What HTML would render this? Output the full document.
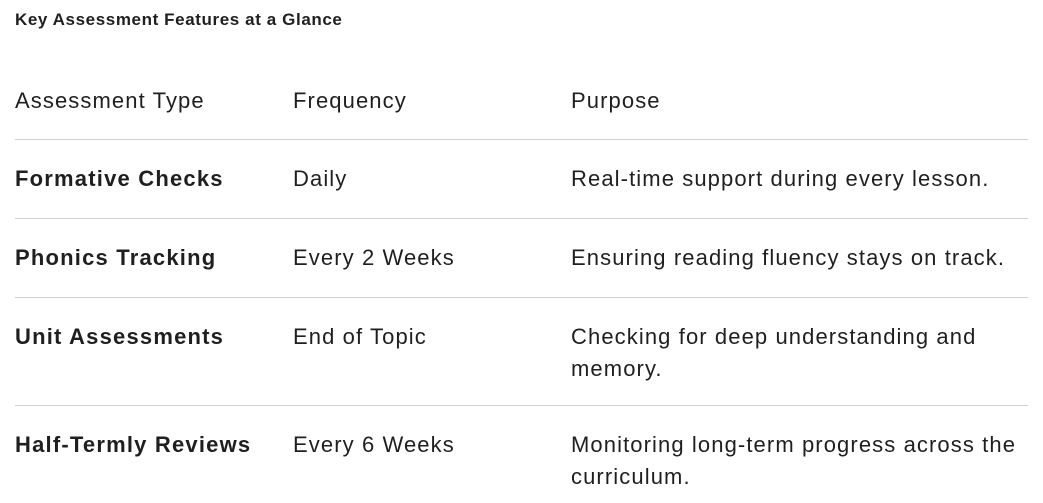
<!DOCTYPE html>
<html><head><style>
body{margin:0;width:1043px;height:503px;background:#fff;font-family:"Liberation Sans",sans-serif;color:#1f1f1f;position:relative;overflow:hidden}
.t{position:absolute;font-size:22px;letter-spacing:1.1px;line-height:32px;white-space:nowrap}
.b{font-weight:bold;letter-spacing:1.2px}
.l{position:absolute;left:15px;width:1013px;height:1px;background:#d0d0d0}
</style></head><body>
<div class="t b" style="left:15px;top:4px;font-size:17px;letter-spacing:0.6px">Key Assessment Features at a Glance</div>
<div class="t" style="left:15px;top:85px">Assessment Type</div>
<div class="t" style="left:293px;top:85px">Frequency</div>
<div class="t" style="left:571px;top:85px">Purpose</div>
<div class="l" style="top:139px"></div>
<div class="t b" style="left:15px;top:163px">Formative Checks</div>
<div class="t" style="left:293px;top:163px">Daily</div>
<div class="t" style="left:571px;top:163px">Real-time support during every lesson.</div>
<div class="l" style="top:218px"></div>
<div class="t b" style="left:15px;top:242px">Phonics Tracking</div>
<div class="t" style="left:293px;top:242px">Every 2 Weeks</div>
<div class="t" style="left:571px;top:242px">Ensuring reading fluency stays on track.</div>
<div class="l" style="top:297px"></div>
<div class="t b" style="left:15px;top:321px">Unit Assessments</div>
<div class="t" style="left:293px;top:321px">End of Topic</div>
<div class="t" style="left:571px;top:321px">Checking for deep understanding and<br>memory.</div>
<div class="l" style="top:405px"></div>
<div class="t b" style="left:15px;top:429px">Half-Termly Reviews</div>
<div class="t" style="left:293px;top:429px">Every 6 Weeks</div>
<div class="t" style="left:571px;top:429px">Monitoring long-term progress across the<br>curriculum.</div>
</body></html>
